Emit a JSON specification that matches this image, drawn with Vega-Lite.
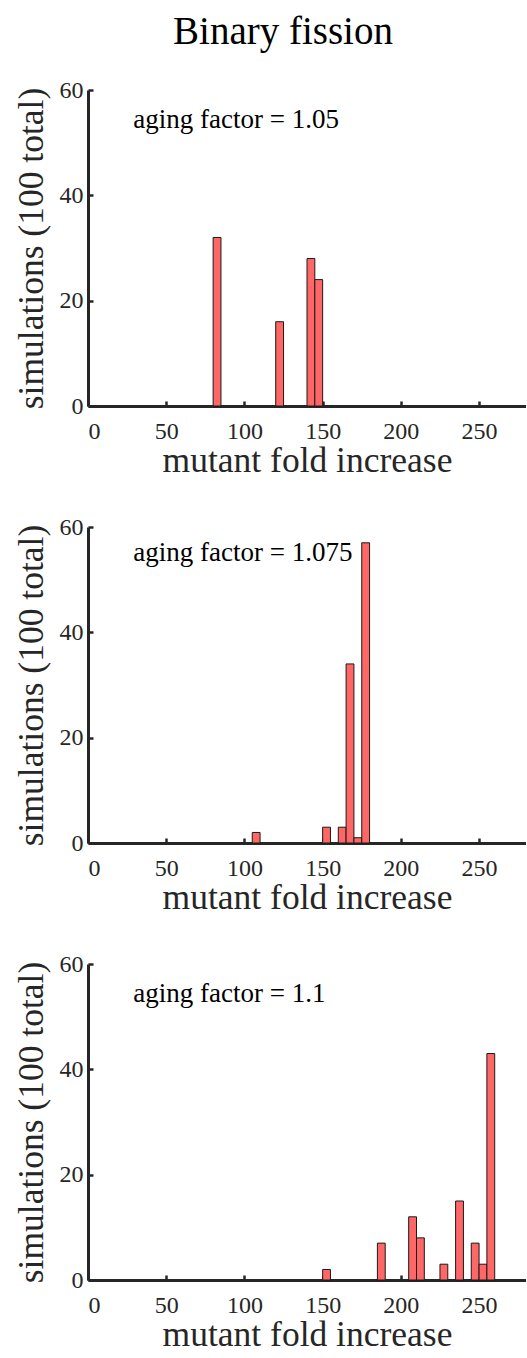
{
  "$schema": "https://vega.github.io/schema/vega-lite/v6.json",
  "background": "white",
  "padding": {"left": 13, "top": 13, "right": 0, "bottom": 40},
  "title": {
    "text": "Binary fission",
    "font": "Liberation Serif",
    "fontSize": 39,
    "fontWeight": "normal",
    "color": "#000000",
    "anchor": "middle",
    "dx": 13,
    "offset": 26
  },
  "datasets": {
    "bins": [
      {"panel": 1, "x0": 80, "x1": 85, "count": 32},
      {"panel": 1, "x0": 120, "x1": 125, "count": 16},
      {"panel": 1, "x0": 140, "x1": 145, "count": 28},
      {"panel": 1, "x0": 145, "x1": 150, "count": 24},
      {"panel": 2, "x0": 105, "x1": 110, "count": 2},
      {"panel": 2, "x0": 150, "x1": 155, "count": 3},
      {"panel": 2, "x0": 160, "x1": 165, "count": 3},
      {"panel": 2, "x0": 165, "x1": 170, "count": 34},
      {"panel": 2, "x0": 170, "x1": 175, "count": 1},
      {"panel": 2, "x0": 175, "x1": 180, "count": 57},
      {"panel": 3, "x0": 150, "x1": 155, "count": 2},
      {"panel": 3, "x0": 185, "x1": 190, "count": 7},
      {"panel": 3, "x0": 205, "x1": 210, "count": 12},
      {"panel": 3, "x0": 210, "x1": 215, "count": 8},
      {"panel": 3, "x0": 225, "x1": 230, "count": 3},
      {"panel": 3, "x0": 235, "x1": 240, "count": 15},
      {"panel": 3, "x0": 245, "x1": 250, "count": 7},
      {"panel": 3, "x0": 250, "x1": 255, "count": 3},
      {"panel": 3, "x0": 255, "x1": 260, "count": 43}
    ],
    "notes": [
      {"panel": 1, "label": "aging factor = 1.05"},
      {"panel": 2, "label": "aging factor = 1.075"},
      {"panel": 3, "label": "aging factor = 1.1"}
    ]
  },
  "config": {
    "view": {"stroke": null},
    "font": "Liberation Serif",
    "text": {"font": "Liberation Serif"},
    "axis": {
      "grid": false,
      "domainColor": "#262626",
      "domainWidth": 3,
      "tickColor": "#262626",
      "tickWidth": 2.5,
      "tickSize": -5,
      "labelFont": "Liberation Serif",
      "labelFontSize": 24,
      "labelColor": "#262626",
      "titleFont": "Liberation Serif",
      "titleFontSize": 35.5,
      "titleFontWeight": "normal",
      "titleColor": "#262626"
    },
    "axisX": {"labelPadding": 18, "titlePadding": 0},
    "axisY": {"labelPadding": 10, "titlePadding": 10}
  },
  "bounds": "flush",
  "spacing": 121,
  "vconcat": [
    {
      "width": 438,
      "height": 316,
      "layer": [
        {
          "data": {"name": "bins"},
          "transform": [{"filter": "datum.panel == 1"}],
          "mark": {"type": "bar", "fill": "#ff6666", "stroke": "#1a1a1a", "strokeWidth": 1},
          "encoding": {
            "x": {"field": "x0", "type": "quantitative", "scale": {"domain": [0, 280], "nice": false},
                  "axis": {"title": "mutant fold increase", "values": [0, 50, 100, 150, 200, 250]}},
            "x2": {"field": "x1"},
            "y": {"field": "count", "type": "quantitative", "scale": {"domain": [0, 60], "nice": false},
                  "axis": {"title": "simulations (100 total)", "values": [0, 20, 40, 60]}},
            "y2": {"datum": 0}
          }
        },
        {
          "data": {"name": "notes"},
          "transform": [{"filter": "datum.panel == 1"}],
          "mark": {"type": "text", "align": "left", "baseline": "alphabetic", "fontSize": 27, "color": "#000000", "font": "Liberation Serif"},
          "encoding": {
            "x": {"datum": 29, "type": "quantitative"},
            "y": {"datum": 52.8, "type": "quantitative"},
            "text": {"field": "label"}
          }
        }
      ]
    },
    {
      "width": 438,
      "height": 316,
      "layer": [
        {
          "data": {"name": "bins"},
          "transform": [{"filter": "datum.panel == 2"}],
          "mark": {"type": "bar", "fill": "#ff6666", "stroke": "#1a1a1a", "strokeWidth": 1},
          "encoding": {
            "x": {"field": "x0", "type": "quantitative", "scale": {"domain": [0, 280], "nice": false},
                  "axis": {"title": "mutant fold increase", "values": [0, 50, 100, 150, 200, 250]}},
            "x2": {"field": "x1"},
            "y": {"field": "count", "type": "quantitative", "scale": {"domain": [0, 60], "nice": false},
                  "axis": {"title": "simulations (100 total)", "values": [0, 20, 40, 60]}},
            "y2": {"datum": 0}
          }
        },
        {
          "data": {"name": "notes"},
          "transform": [{"filter": "datum.panel == 2"}],
          "mark": {"type": "text", "align": "left", "baseline": "alphabetic", "fontSize": 27, "color": "#000000", "font": "Liberation Serif"},
          "encoding": {
            "x": {"datum": 29, "type": "quantitative"},
            "y": {"datum": 53.5, "type": "quantitative"},
            "text": {"field": "label"}
          }
        }
      ]
    },
    {
      "width": 438,
      "height": 316,
      "layer": [
        {
          "data": {"name": "bins"},
          "transform": [{"filter": "datum.panel == 3"}],
          "mark": {"type": "bar", "fill": "#ff6666", "stroke": "#1a1a1a", "strokeWidth": 1},
          "encoding": {
            "x": {"field": "x0", "type": "quantitative", "scale": {"domain": [0, 280], "nice": false},
                  "axis": {"title": "mutant fold increase", "values": [0, 50, 100, 150, 200, 250]}},
            "x2": {"field": "x1"},
            "y": {"field": "count", "type": "quantitative", "scale": {"domain": [0, 60], "nice": false},
                  "axis": {"title": "simulations (100 total)", "values": [0, 20, 40, 60]}},
            "y2": {"datum": 0}
          }
        },
        {
          "data": {"name": "notes"},
          "transform": [{"filter": "datum.panel == 3"}],
          "mark": {"type": "text", "align": "left", "baseline": "alphabetic", "fontSize": 27, "color": "#000000", "font": "Liberation Serif"},
          "encoding": {
            "x": {"datum": 29, "type": "quantitative"},
            "y": {"datum": 52.8, "type": "quantitative"},
            "text": {"field": "label"}
          }
        }
      ]
    }
  ]
}
